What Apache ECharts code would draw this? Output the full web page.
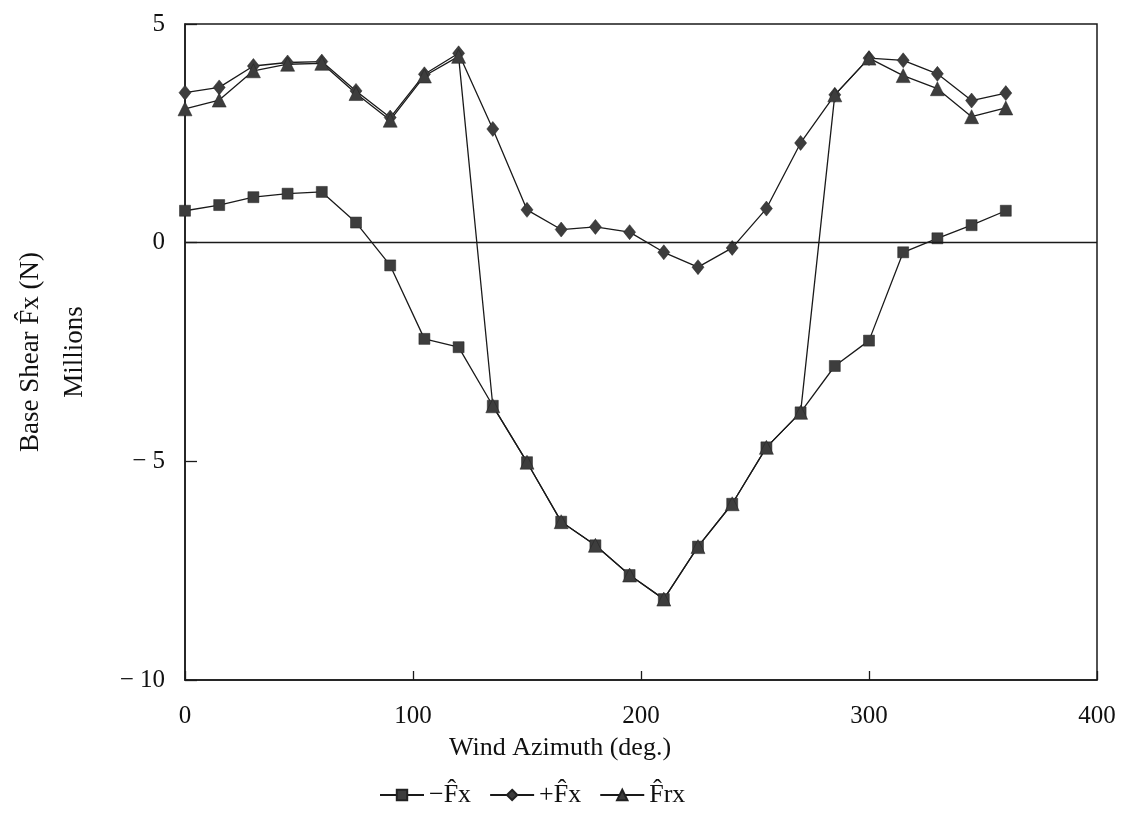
<!DOCTYPE html>
<html>
<head>
<meta charset="utf-8">
<script src="https://cdn.jsdelivr.net/npm/echarts@6/dist/echarts.min.js"></script>
<style>
    html, body { margin: 0; padding: 0; background: #fff; }
    #box1 { width: 1123px; height: 821px; }
</style>
</head>
<body>
<div id="box1"></div>
<script>
// wind azimuth, every 15 deg
const aAzimuth = [0, 15, 30, 45, 60, 75, 90, 105, 120, 135, 150, 165, 180, 195, 210, 225, 240, 255, 270, 285, 300, 315, 330, 345, 360];
// -Fx (squares)
const aNegFx = [0.73, 0.86, 1.04, 1.12, 1.16, 0.46, -0.52, -2.2, -2.39, -3.73, -5.02, -6.38, -6.92, -7.6, -8.15, -6.95, -5.97, -4.68, -3.88, -2.82, -2.24, -0.22, 0.1, 0.4, 0.73];
// +Fx (diamonds)
const aPosFx = [3.43, 3.55, 4.04, 4.12, 4.14, 3.47, 2.86, 3.85, 4.33, 2.6, 0.75, 0.3, 0.36, 0.24, -0.22, -0.56, -0.12, 0.78, 2.28, 3.38, 4.22, 4.17, 3.86, 3.25, 3.42];
// Frx (triangles)
const aFrx = [3.06, 3.26, 3.93, 4.08, 4.1, 3.41, 2.8, 3.81, 4.26, -3.73, -5.02, -6.38, -6.92, -7.6, -8.15, -6.95, -5.97, -4.68, -3.88, 3.38, 4.22, 3.82, 3.52, 2.88, 3.08];
const aXTicks = [0, 100, 200, 300, 400];
const aYTicks = [-10, -5, 0, 5];

const sFont = '"Liberation Serif", "DejaVu Serif", serif';
const sInk = '#1a1a1a';
const sMark = '#3d3d3d';

function toPairs(aVal){
    return aAzimuth.map((az, i) => [az, aVal[i]]);
}

const oLinePart = {
    type: 'line',
    showSymbol: true,
    lineStyle: { color: sInk, width: 1.3 },
    itemStyle: { color: sMark, borderColor: '#222', borderWidth: 0.5 },
    emphasis: { disabled: true },
    z: 3,
};

const myChart = echarts.init(document.getElementById('box1'), null, { renderer: 'canvas' });
const option = {
    backgroundColor: '#fff',
    animation: false,
    textStyle: { fontFamily: sFont, color: '#111' },
    grid: {
        left: 185, right: 26, top: 24, bottom: 141,
        outerBoundsMode: 'none',
        containLabel: false,
        show: true, borderColor: sInk, borderWidth: 1.5,
    },
    legend: {
        left: 374, top: 777,
        itemWidth: 44, itemHeight: 13, itemGap: 18,
        textStyle: { fontFamily: sFont, fontSize: 26, color: '#111' },
        data: ['\u2212F\u0302x', '+F\u0302x', 'F\u0302rx'],
    },
    xAxis: {
        type: 'value',
        min: 0, max: 400, interval: 100,
        name: 'Wind Azimuth (deg.)',
        nameLocation: 'middle',
        nameGap: 55,
        nameTextStyle: { fontFamily: sFont, fontSize: 26, color: '#111', padding: [0, 162, 0, 0] },
        axisLine: { show: true, onZero: false, lineStyle: { color: sInk, width: 1.5 } },
        axisTick: { show: true, inside: true, length: 9, lineStyle: { color: sInk, width: 1.3 } },
        axisLabel: {
            fontFamily: sFont, fontSize: 25, color: '#111', margin: 24,
            formatter: v => aXTicks.includes(v) ? String(v) : '',
        },
        splitLine: { show: false },
    },
    yAxis: {
        type: 'value',
        min: -10, max: 5, interval: 5,
        name: 'Base Shear F\u0302x (N)\nMillions',
        nameLocation: 'middle',
        nameGap: 88,
        nameRotate: 90,
        nameTextStyle: { fontFamily: sFont, fontSize: 27, color: '#111', lineHeight: 44 },
        axisLine: { show: true, onZero: false, lineStyle: { color: sInk, width: 1.5 } },
        axisTick: { show: true, inside: true, length: 12, lineStyle: { color: sInk, width: 1.3 } },
        axisLabel: {
            fontFamily: sFont, fontSize: 25, color: '#111', margin: 20,
            formatter: v => aYTicks.includes(v) ? String(v).replace('-', '\u2212 ') : '',
        },
        splitLine: { show: false },
    },
    series: [
        {
            ...oLinePart,
            name: '\u2212F\u0302x',
            symbol: 'rect', symbolSize: 11,
            data: toPairs(aNegFx),
            markLine: {
                silent: true, symbol: 'none', label: { show: false },
                lineStyle: { color: sInk, width: 1.3, type: 'solid' },
                data: [{ yAxis: 0 }],
            },
        },
        {
            ...oLinePart,
            name: '+F\u0302x',
            symbol: 'diamond', symbolSize: [12, 15],
            data: toPairs(aPosFx),
        },
        {
            ...oLinePart,
            name: 'F\u0302rx',
            symbol: 'triangle', symbolSize: 14,
            data: toPairs(aFrx),
        },
    ],
};
myChart.setOption(option);
</script>
</body>
</html>
